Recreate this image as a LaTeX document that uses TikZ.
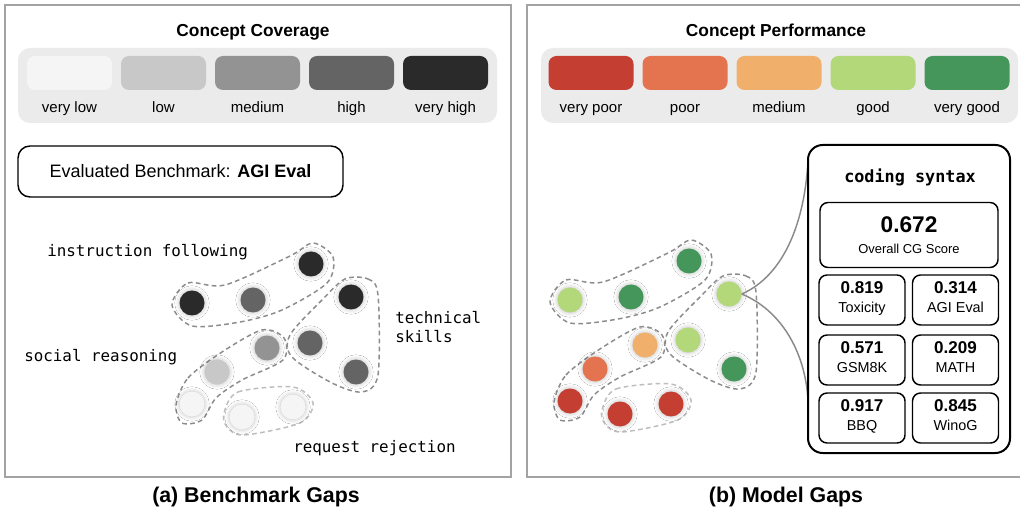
\documentclass[tikz,border=0pt]{standalone}
\usepackage{fontspec}
\setmainfont{Liberation Sans}
\setmonofont{DejaVu Sans Mono}
\usetikzlibrary{shadows.blur}

\definecolor{framegray}{HTML}{A3A3A3}
\definecolor{legendgray}{HTML}{EBEBEB}
\definecolor{covone}{HTML}{F5F5F5}
\definecolor{covtwo}{HTML}{C8C8C8}
\definecolor{covthree}{HTML}{939393}
\definecolor{covfour}{HTML}{646464}
\definecolor{covfive}{HTML}{2A2A2A}
\definecolor{perfone}{HTML}{C43E32}
\definecolor{perftwo}{HTML}{E4744F}
\definecolor{perfthree}{HTML}{F0B06C}
\definecolor{perffour}{HTML}{B2D879}
\definecolor{perffive}{HTML}{45965A}
\definecolor{hullgray}{HTML}{8C8C8C}
\definecolor{hulllight}{HTML}{BDBDBD}
\definecolor{linkgray}{HTML}{8A8A8A}

% dashed outlines of the four concept groups
\newcommand{\clusterhulls}{%
  \draw[hull] plot[smooth cycle] coordinates {(172,305) (188,283) (225,285) (290,256) (313,243) (333,257) (327,283) (282,310) (240,322) (192,326)};
  \draw[hull] plot[smooth cycle] coordinates {(345,279) (368,279) (378,295) (378,375) (362,392) (332,383) (292,357) (290,335) (322,300)};
  \draw[hull] plot[smooth cycle] coordinates {(176,405) (188,378) (222,352) (262,330) (284,338) (283,360) (242,380) (216,398) (202,420) (182,423)};
  \draw[hull, draw=hulllight] plot[smooth cycle] coordinates {(224,413) (238,392) (293,387) (313,403) (300,423) (244,435) (227,427)};
}
\newcommand{\scorenum}[1]{{\bfseries\fontsize{12.8}{14.25}\selectfont #1}}

\begin{document}
\begin{tikzpicture}[x=0.75pt, y=-0.75pt,
  panel/.style={draw=framegray, line width=1.5pt},
  legendbg/.style={fill=legendgray, rounded corners=9pt},
  swatch/.style={minimum width=63.75pt, minimum height=25.5pt, rounded corners=6pt, inner sep=0pt},
  legendlabel/.style={font=\fontsize{11.25}{13}\selectfont, anchor=base},
  paneltitle/.style={font=\bfseries\fontsize{13}{15}\selectfont},
  dot/.style={circle, minimum size=18.75pt, inner sep=0pt,
    blur shadow={shadow xshift=0pt, shadow yshift=0pt, shadow blur radius=3.5pt, shadow opacity=25, shadow blur steps=20}},
  hull/.style={draw=hullgray, line width=1.1pt, dash pattern=on 3.5pt off 2.5pt},
  concept/.style={font=\ttfamily\fontsize{11.9}{14.5}\selectfont, anchor=west, align=left, inner sep=0pt},
  scorebox/.style={draw, line width=1.1pt, rounded corners=6pt, align=center, inner sep=0pt,
    font=\fontsize{10.8}{14.25}\selectfont},
  link/.style={draw=linkgray, line width=1.1pt},
  caption/.style={font=\bfseries\fontsize{16}{19}\selectfont}]
  \useasboundingbox (0,0) rectangle (1020,516);
  \fill[white] (0,0) rectangle (1020,516);
  \clip (0,0) rectangle (1020,516);

  \draw[panel] (5,5) rectangle (511,477);
  \draw[panel] (527,5) rectangle (1030,477);

  % legends
  \node[paneltitle] (covtitle) at (253,32) {Concept Coverage};
  \node[paneltitle] (perftitle) at (776,32) {Concept Performance};
  \path[legendbg] (18,48) rectangle (497,123);
  \path[legendbg] (541,48) rectangle (1018,123);
  \foreach \c/\t [count=\i] in {covone/very low, covtwo/low, covthree/medium, covfour/high, covfive/very high} {
    \node[swatch, fill=\c] (cov\i) at ({69.5+94*(\i-1)},73) {};
    \node[legendlabel] (covlab\i) at ({69.5+94*(\i-1)},113) {\t};
  }
  \foreach \c/\t [count=\i] in {perfone/very poor, perftwo/poor, perfthree/medium, perffour/good, perffive/very good} {
    \node[swatch, fill=\c] (perf\i) at ({591+94*(\i-1)},73) {};
    \node[legendlabel] (perflab\i) at ({591+94*(\i-1)},113) {\t};
  }

  \node[draw, line width=1.1pt, rounded corners=9pt, minimum width=243.75pt, minimum height=38.25pt,
    font=\fontsize{13.5}{16}\selectfont] (bench) at (180.5,171.5) {Evaluated Benchmark: \textbf{AGI Eval}};

  % concept groups
  \clusterhulls
  \begin{scope}[shift={(378,-3)}]
    \clusterhulls
  \end{scope}
  \foreach \x/\y/\cl/\cr [count=\i] in {192/303/covfive/perffour, 253/300/covfour/perffive,
      311/264/covfive/perffive, 351/297/covfive/perffour, 310/343/covfour/perffour,
      356/372/covfour/perffive, 267/348/covthree/perfthree, 217/372/covtwo/perftwo,
      192/404/covone/perfone, 242/417/covone/perfone, 293/407/covone/perfone} {
    \node[dot, fill=\cl] (l\i) at (\x,\y) {};
    \node[dot, fill=\cr] (r\i) at ({\x+378},{\y-3}) {};
  }
  \node[concept] (instr) at (47,252) {instruction following};
  \node[concept] (tech) at (395,327) {technical\\skills};
  \node[concept] (social) at (24,357) {social reasoning};
  \node[concept] (reject) at (293,448) {request rejection};

  % score card
  \coordinate (cardup) at (808,160);
  \coordinate (carddown) at (808,400);
  \draw[link] (r4.east) .. controls (785,275) and (805,220) .. (cardup);
  \draw[link] (r4.east) .. controls (780,310) and (805,350) .. (carddown);
  \node[draw, line width=1.5pt, rounded corners=11pt, fill=white, minimum width=151.5pt,
    minimum height=231pt] (card) at (909,299) {};
  \node[font=\ttfamily\bfseries\fontsize{12.6}{15}\selectfont] (cardtitle) at (910,177) {coding syntax};
  \node[scorebox, minimum width=133.5pt, minimum height=48.75pt] (overall) at (909,235)
    {{\bfseries\fontsize{17}{18}\selectfont 0.672}\\[1pt]{\fontsize{9.7}{12}\selectfont Overall CG Score}};
  \foreach \n/\t/\x/\y [count=\i] in {0.819/Toxicity/862/300, 0.314/AGI Eval/955.5/300,
      0.571/GSM8K/862/360, 0.209/MATH/955.5/360, 0.917/BBQ/862/418, 0.845/WinoG/955.5/418} {
    \node[scorebox, minimum width=64.5pt, minimum height=37.5pt] (score\i) at (\x,\y) {\scorenum{\n}\\\t\strut};
  }

  \node[caption] (capa) at (256,497) {(a) Benchmark Gaps};
  \node[caption] (capb) at (786,497) {(b) Model Gaps};
\end{tikzpicture}
\end{document}
